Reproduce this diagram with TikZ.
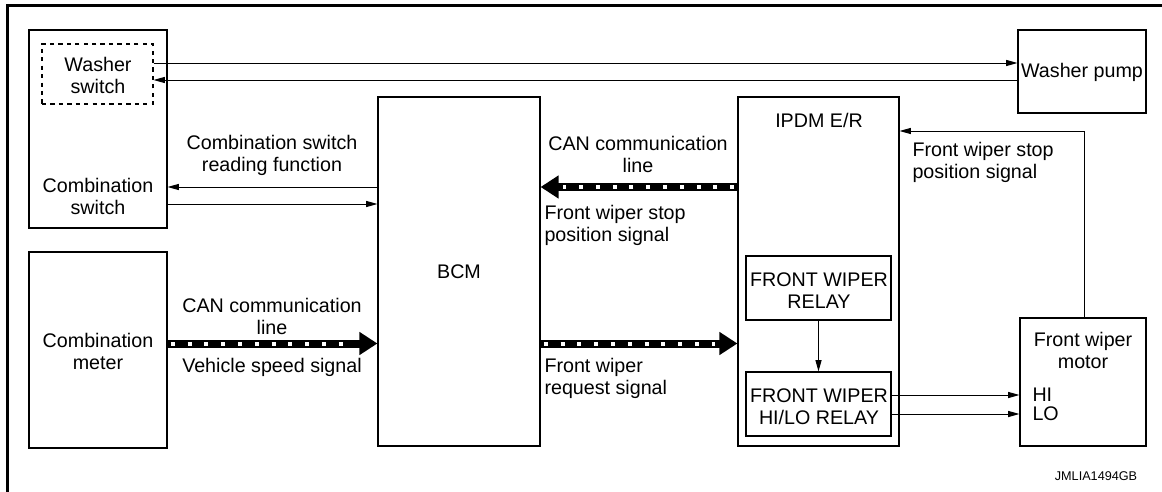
\documentclass[tikz,border=0pt]{standalone}
\usepackage{fontspec}
\setmainfont{Liberation Sans}
\usetikzlibrary{arrows.meta}
\tikzset{
	node_box/.style = {
		draw=black,
		line width=0.8pt,
		rectangle,
		inner sep=0pt
	},
	node_dash/.style = {
		node_box,
		dashed
	},
	node_txt/.style = {
		align=center,
		inner sep=0pt,
		font=\fontsize{14}{15.6}\selectfont
	},
	node_txt_left/.style = {
		node_txt,
		align=left,
		anchor=west
	},
	can_bus/.style = {
		line width=0.2cm,
		-{Triangle[length=0.45cm,width=0.55cm]},
		postaction={draw, -, white, line width=0.1cm,
			dash pattern=on 0.1cm off 0.32cm,
			shorten <=0.08cm, shorten >=0.55cm}
	},
}

\begin{document}
\begin{tikzpicture}[x=0.025cm, y=-0.025cm, >={Triangle[length=0.28cm,width=0.15cm]}, line width=0.7pt]
\useasboundingbox (0,0) rectangle (1162,492);
% frame
\draw[line width=2.5pt] (7.5,492) -- (7.5,5.5) -- (1162,5.5);

% boxes
\node [node_box, minimum width=3.45cm, minimum height=4.95cm] (sw_comb) at (98,129) {};
\node [node_dash, minimum width=2.775cm, minimum height=1.5cm] (sw_washer) at (97.5,74) {};
\node [node_box, minimum width=3.45cm, minimum height=4.9cm] (meter) at (98,350) {};
\node [node_box, minimum width=4.05cm, minimum height=8.725cm] (bcm) at (459,271.5) {};
\node [node_box, minimum width=4.025cm, minimum height=8.725cm] (ipdm) at (818.5,271.5) {};
\node [node_box, minimum width=3.625cm, minimum height=1.6cm] (relay) at (818.5,288) {};
\node [node_box, minimum width=3.625cm, minimum height=1.6cm] (relay_hilo) at (818.5,404) {};
\node [node_box, minimum width=3.2cm, minimum height=2.075cm] (pump) at (1082,71.5) {};
\node [node_box, minimum width=3.15cm, minimum height=3.2cm] (motor) at (1083,382) {};

% texts
\node [node_txt] (t_washer) at (98,75) {Washer\\switch};
\node [node_txt] (t_comb) at (98,196) {Combination\\switch};
\node [node_txt] (t_meter) at (98,351) {Combination\\meter};
\node [node_txt] (t_pump) at (1082,72) {Washer pump};
\node [node_txt] (t_bcm) at (459,272) {BCM};
\node [node_txt] (t_ipdm) at (819,120) {IPDM E/R};
\node [node_txt] (t_relay) at (819,291) {FRONT WIPER\\RELAY};
\node [node_txt] (t_relay_hilo) at (819,407) {FRONT WIPER\\HI/LO RELAY};
\node [node_txt] (t_motor) at (1083,350) {Front wiper\\motor};
\node [node_txt_left] (t_hi) at (1032,395) {HI};
\node [node_txt_left] (t_lo) at (1032,414) {LO};

% signal labels
\node [node_txt] (l_read) at (272,155) {Combination switch\\reading function};
\node [node_txt] (l_can1) at (638,154) {CAN communication\\line};
\node [node_txt_left] (l_stop1) at (544,225) {Front wiper stop\\position signal};
\node [node_txt] (l_can2) at (272,316) {CAN communication\\line};
\node [node_txt] (l_speed) at (272,367) {Vehicle speed signal};
\node [node_txt_left] (l_req) at (544,378) {Front wiper\\request signal};
\node [node_txt_left] (l_stop2) at (912,162) {Front wiper stop\\position signal};
\node [node_txt, font=\fontsize{9}{10}\selectfont] (l_code) at (1096,476) {JMLIA1494GB};

% helper rows
\coordinate (r_w1) at (0,63);
\coordinate (r_w2) at (0,80);
\coordinate (r_c1) at (0,187);
\coordinate (r_c2) at (0,204);
\coordinate (r_stop) at (1084.5,131);

% connectors
\draw [->] (sw_washer.east |- r_w1) -- (pump.west |- r_w1);
\draw [->] (pump.west |- r_w2) -- (sw_washer.east |- r_w2);
\draw [->] (bcm.west |- r_c1) -- (sw_comb.east |- r_c1);
\draw [->] (sw_comb.east |- r_c2) -- (bcm.west |- r_c2);
\draw [can_bus] (ipdm.west |- r_c1) -- (bcm.east |- r_c1);
\draw [can_bus] (meter.east |- bcm.center) ++(0,72) coordinate (m_out) -- (bcm.west |- m_out);
\draw [can_bus] (bcm.east |- m_out) -- (ipdm.west |- m_out);
\draw [->] (relay.south) -- (relay_hilo.north);
\draw [->] (relay_hilo.east |- t_hi) -- (motor.west |- t_hi);
\draw [->] (relay_hilo.east |- t_lo) -- (motor.west |- t_lo);
\draw [->] (motor.north -| r_stop) -- (r_stop) -- (ipdm.east |- r_stop);
\end{tikzpicture}
\end{document}
